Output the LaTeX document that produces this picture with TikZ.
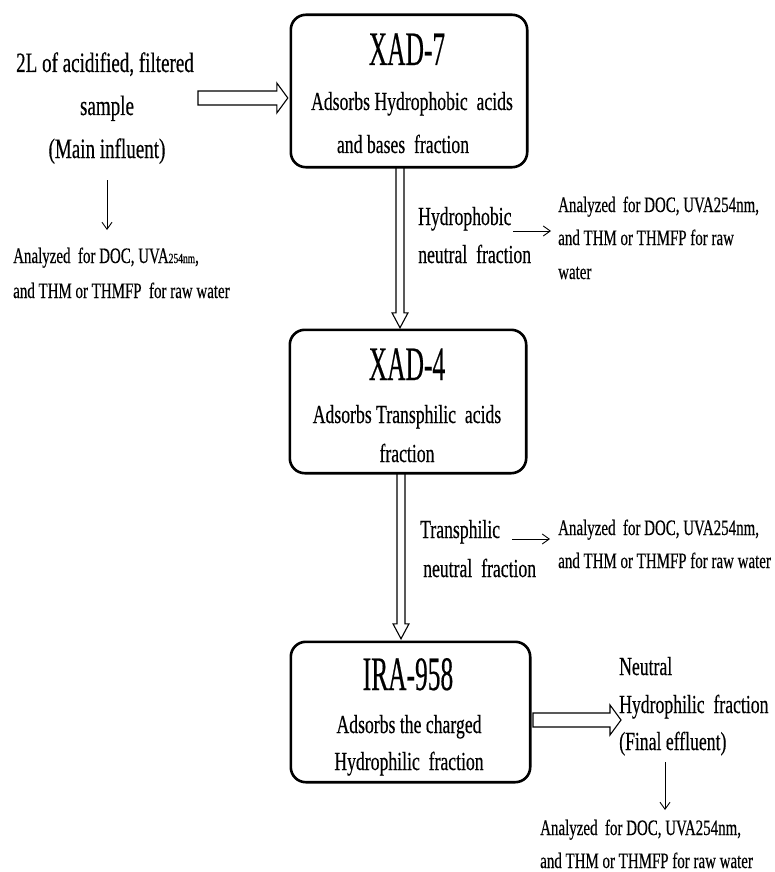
\documentclass[tikz,border=0pt]{standalone}
\usepackage{fontspec}
\setmainfont{Liberation Serif}[FakeStretch=0.68,FakeBold=0.35]
\newfontfamily\titlefont{Liberation Serif}[FakeStretch=0.53,FakeBold=0.35]
\usetikzlibrary{arrows.meta,calc}
\newcommand\myvarrow[2]{\draw[hollow] let \p1=(#1), \p2=(#2) in (\x1-4pt,\y1) -- (\x1-4pt,\y2+15pt) -- (\x1-8pt,\y2+15pt) -- (\x1,\y2) -- (\x1+8pt,\y2+15pt) -- (\x1+4pt,\y2+15pt) -- (\x1+4pt,\y1);}
\newcommand\myharrow[2]{\draw[hollow] let \p1=(#1), \p2=(#2) in (\x1,\y1+7pt) -- (\x2-11pt,\y1+7pt) -- (\x2-11pt,\y1+15pt) -- (\x2,\y1) -- (\x2-11pt,\y1-15pt) -- (\x2-11pt,\y1-7pt) -- (\x1,\y1-7pt) -- cycle;}
\begin{document}
\begin{tikzpicture}[x=1pt,y=-1pt,
 box/.style={draw, line width=2.6pt, rounded corners=15pt, inner sep=0pt},
 txt/.style={inner sep=0pt, anchor=base, font=\fontsize{26}{26}\selectfont},
 bigtxt/.style={inner sep=0pt, anchor=base, font=\fontsize{28}{28}\selectfont},
 ttl/.style={inner sep=0pt, anchor=base, font=\titlefont\fontsize{48}{48}\selectfont},
 ltxt/.style={inner sep=0pt, anchor=base west, font=\fontsize{26}{26}\selectfont},
 smalltxt/.style={inner sep=0pt, anchor=base west, font=\fontsize{22}{22}\selectfont},
 thinarrow/.style={line width=0.9pt, -{Straight Barb[length=7pt,width=10pt]}},
 hollow/.style={line width=1.1pt, fill=white}]
\fill[white] (0,0) rectangle (774,872);
\useasboundingbox (0,0) rectangle (774,872);

% boxes (positions)
\node[minimum width=236pt, minimum height=152pt, inner sep=0pt] (b1) at (409,91) {};
\node[minimum width=236pt, minimum height=143pt, inner sep=0pt] (b2) at (408,401.5) {};
\node[minimum width=239pt, minimum height=140pt, inner sep=0pt] (b3) at (410.5,712) {};

% coordinates for free ends
\coordinate (a1) at (198,98);
\coordinate (a2) at (533,720);
\coordinate (a2e) at (621,720);
\coordinate (t1s) at (107,180);
\coordinate (t1e) at (107,230);
\coordinate (t2s) at (513,231);
\coordinate (t2e) at (551,231);
\coordinate (t3s) at (512,539);
\coordinate (t3e) at (550,539);
\coordinate (t4s) at (665,762);
\coordinate (t4e) at (665,810);

% hollow arrows
\myharrow{a1}{[xshift=-3pt]b1.west}
\myvarrow{[xshift=-9pt]b1.south}{[yshift=2pt]b2.north}
\myvarrow{[xshift=-7pt]b2.south}{[yshift=3pt]b3.north}
\myharrow{a2}{a2e}

% box outlines drawn on top of the arrow ends
\draw[box] (b1.north west) rectangle (b1.south east);
\draw[box] (b2.north west) rectangle (b2.south east);
\draw[box] (b3.north west) rectangle (b3.south east);

% thin arrows
\draw[thinarrow] (t1s) -- (t1e);
\draw[thinarrow] (t2s) -- (t2e);
\draw[thinarrow] (t3s) -- (t3e);
\draw[thinarrow] (t4s) -- (t4e);

% left block
\node[bigtxt] (in1) at (105,72) {2L of acidified, filtered};
\node[bigtxt] (in2) at (107,115) {sample};
\node[bigtxt] (in3) at (107,158) {(Main influent)};
\node[smalltxt] (la1) at (13,263) {Analyzed\ \ for DOC, UVA{\fontsize{14}{14}\selectfont 254nm},};
\node[smalltxt] (la2) at (13,298) {and THM or THMFP\ \ for raw water};

% box 1 text
\node[ttl] (x7) at (407,65) {XAD-7};
\node[txt] (x7a) at (412,110) {Adsorbs Hydrophobic\ \ acids};
\node[txt] (x7b) at (403,153) {and bases\ \ fraction};

% box 2 text
\node[ttl] (x4) at (407,380) {XAD-4};
\node[txt] (x4a) at (407,423) {Adsorbs Transphilic\ \ acids};
\node[txt] (x4b) at (407,462) {fraction};

% box 3 text
\node[ttl] (ira) at (408,690) {IRA-958};
\node[txt] (iraa) at (409,733) {Adsorbs the charged};
\node[txt] (irab) at (409,770) {Hydrophilic\ \ fraction};

% side labels
\node[ltxt] (h1) at (418,225) {Hydrophobic};
\node[ltxt] (h2) at (418,263) {neutral\ \ fraction};
\node[ltxt] (tr1) at (420,538) {Transphilic};
\node[ltxt] (tr2) at (423,577) {neutral\ \ fraction};

\node[smalltxt] (r1a) at (558,212) {Analyzed\ \ for DOC, UVA254nm,};
\node[smalltxt] (r1b) at (558,245) {and THM or THMFP for raw};
\node[smalltxt] (r1c) at (558,279) {water};
\node[smalltxt] (r2a) at (558,535) {Analyzed\ \ for DOC, UVA254nm,};
\node[smalltxt] (r2b) at (558,568) {and THM or THMFP for raw water};

\node[ltxt] (n1) at (619,675) {Neutral};
\node[ltxt] (n2) at (619,713) {Hydrophilic\ \ fraction};
\node[ltxt] (n3) at (619,750) {(Final effluent)};
\node[smalltxt] (f1) at (540,835) {Analyzed\ \ for DOC, UVA254nm,};
\node[smalltxt] (f2) at (540,868) {and THM or THMFP for raw water};
\end{tikzpicture}
\end{document}
